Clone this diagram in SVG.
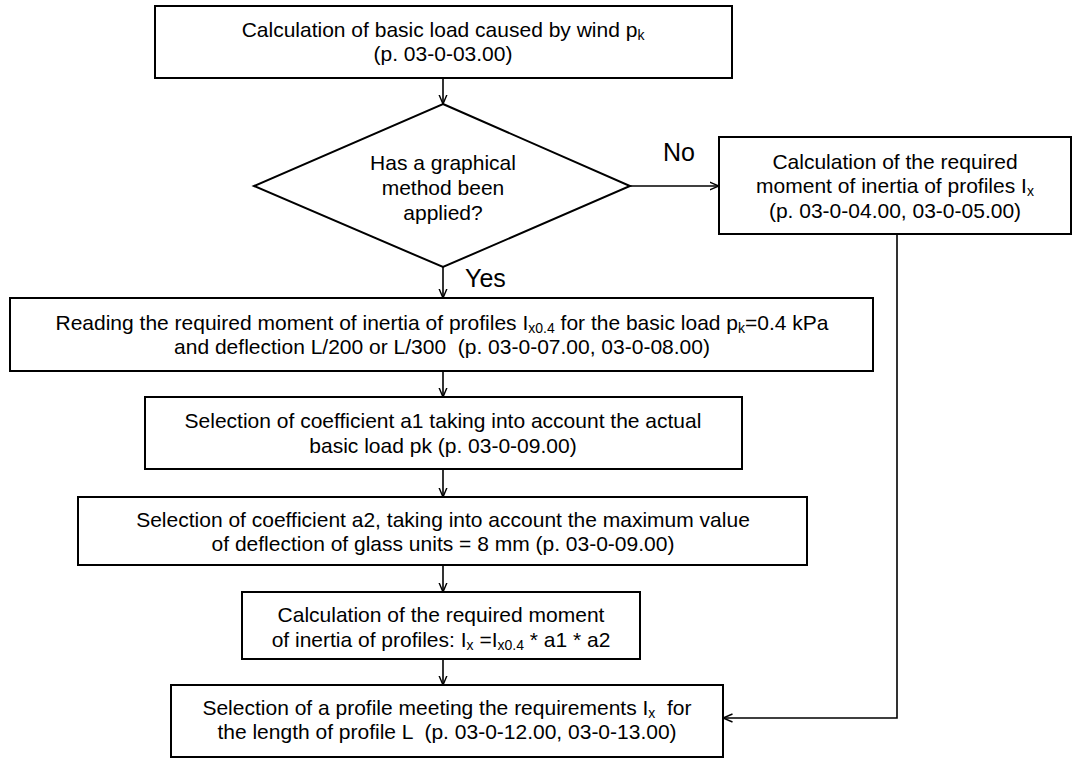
<svg xmlns="http://www.w3.org/2000/svg" width="1072" height="758" viewBox="0 0 1072 758">
<defs>
<style>
.box{fill:#fff;stroke:#000;stroke-width:2}
.con{fill:none;stroke:#000;stroke-width:1.6}
text{font-family:"Liberation Sans",Arial,sans-serif;font-size:21px;fill:#000;text-anchor:middle}
.lbl{font-size:25px;text-anchor:start}
.s{font-size:14px}
</style>
<marker id="arr" viewBox="0 0 10 10" refX="9.5" refY="5" markerWidth="10" markerHeight="10" markerUnits="userSpaceOnUse" orient="auto">
<path d="M0,1 L9.5,5 L0,9" fill="none" stroke="#000" stroke-width="1.4"/>
</marker>
</defs>
<rect width="1072" height="758" fill="#fff"/>
<g id="connectors">
<line class="con" x1="443" y1="78" x2="443" y2="104" marker-end="url(#arr)"/>
<line class="con" x1="443" y1="267" x2="443" y2="298" marker-end="url(#arr)"/>
<line class="con" x1="630" y1="186" x2="719" y2="186" marker-end="url(#arr)"/>
<line class="con" x1="443" y1="371" x2="443" y2="397" marker-end="url(#arr)"/>
<line class="con" x1="443" y1="469" x2="443" y2="497" marker-end="url(#arr)"/>
<line class="con" x1="443" y1="565" x2="443" y2="592" marker-end="url(#arr)"/>
<line class="con" x1="443" y1="659" x2="443" y2="685" marker-end="url(#arr)"/>
<polyline class="con" points="897,234 897,718 723,718" marker-end="url(#arr)"/>
<text class="lbl" x="663" y="161">No</text>
<text class="lbl" x="465" y="287">Yes</text>
</g>
<g id="n1">
<rect class="box" x="155" y="6" width="577" height="72"/>
<text x="443" y="37">Calculation of basic load caused by wind p<tspan class="s" dy="3">k</tspan></text>
<text x="443" y="61">(p. 03-0-03.00)</text>
</g>
<g id="n2">
<polygon class="box" points="443,104 630,186 443,267 254,186"/>
<text x="443" y="170">Has a graphical</text>
<text x="443" y="195">method been</text>
<text x="443" y="220">applied?</text>
</g>
<g id="n3">
<rect class="box" x="719" y="137" width="352" height="97"/>
<text x="895" y="169">Calculation of the required</text>
<text x="895" y="193">moment of inertia of profiles I<tspan class="s" dy="3">x</tspan></text>
<text x="895" y="218">(p. 03-0-04.00, 03-0-05.00)</text>
</g>
<g id="n4">
<rect class="box" x="10" y="298" width="863" height="73"/>
<text x="442" y="330" xml:space="preserve">Reading the required moment of inertia of profiles I<tspan class="s" dy="3">x0.4</tspan><tspan dy="-3"> for the basic load p</tspan><tspan class="s" dy="3">k</tspan><tspan dy="-3">=0.4 kPa</tspan></text>
<text x="442" y="354" xml:space="preserve">and deflection L/200 or L/300  (p. 03-0-07.00, 03-0-08.00)</text>
</g>
<g id="n5">
<rect class="box" x="145" y="397" width="597" height="72"/>
<text x="443" y="428">Selection of coefficient a1 taking into account the actual</text>
<text x="443" y="453">basic load pk (p. 03-0-09.00)</text>
</g>
<g id="n6">
<rect class="box" x="78" y="497" width="729" height="68"/>
<text x="443" y="527">Selection of coefficient a2, taking into account the maximum value</text>
<text x="443" y="551">of deflection of glass units = 8 mm (p. 03-0-09.00)</text>
</g>
<g id="n7">
<rect class="box" x="242" y="592" width="398" height="67"/>
<text x="441" y="622">Calculation of the required moment</text>
<text x="441" y="647" xml:space="preserve">of inertia of profiles: I<tspan class="s" dy="3">x</tspan><tspan dy="-3"> =I</tspan><tspan class="s" dy="3">x0.4</tspan><tspan dy="-3"> * a1 * a2</tspan></text>
</g>
<g id="n8">
<rect class="box" x="171" y="685" width="552" height="72"/>
<text x="447" y="715" xml:space="preserve">Selection of a profile meeting the requirements I<tspan class="s" dy="3">x</tspan><tspan dy="-3">  for</tspan></text>
<text x="447" y="739" xml:space="preserve">the length of profile L  (p. 03-0-12.00, 03-0-13.00)</text>
</g>
</svg>
